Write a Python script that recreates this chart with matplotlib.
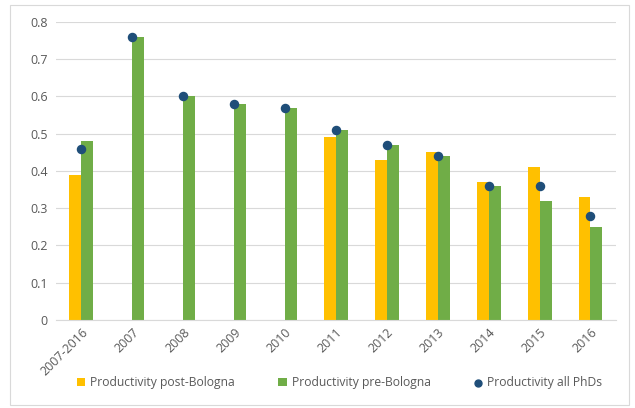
import numpy as np
import matplotlib.pyplot as plt
from matplotlib.patches import Rectangle

plt.rcParams['font.family'] = ['Open Sans', 'DejaVu Sans']

categories = ['2007-2016', '2007', '2008', '2009', '2010', '2011',
              '2012', '2013', '2014', '2015', '2016']
post_bologna = [0.39, np.nan, np.nan, np.nan, np.nan, 0.49, 0.43, 0.45, 0.37, 0.41, 0.33]
pre_bologna = [0.48, 0.76, 0.60, 0.58, 0.57, 0.51, 0.47, 0.44, 0.36, 0.32, 0.25]
all_phds = [0.46, 0.76, 0.60, 0.58, 0.57, 0.51, 0.47, 0.44, 0.36, 0.36, 0.28]

fig = plt.figure(figsize=(6.35, 4.08), dpi=100)
ax = fig.add_axes([0.088, 0.216, 0.882, 0.730])

# thin frame round the whole chart
fig.patches.append(Rectangle((0.015, 0.008), 0.975, 0.98, transform=fig.transFigure,
                             fill=False, edgecolor='#d9d9d9', linewidth=0.8))

x = np.arange(len(categories))
w = 0.235
b1 = ax.bar(x - w / 2, post_bologna, w, color='#FFC000', zorder=2)
b2 = ax.bar(x + w / 2, pre_bologna, w, color='#70AD47', zorder=2)
sc = ax.scatter(x, all_phds, s=34, color='#1F4E79', zorder=3)

ax.set_xlim(-0.5, len(categories) - 0.5)
ax.set_ylim(0, 0.8)
ax.set_yticks(np.arange(0, 0.81, 0.1))
ax.set_yticklabels(['0'] + [f'{v:.1f}' for v in np.arange(0.1, 0.81, 0.1)])
ax.set_xticks(x)
ax.set_xticklabels(categories, rotation=45, ha='right', rotation_mode='anchor')
ax.tick_params(axis='both', length=0, labelsize=9, colors='#595959', pad=6)
ax.tick_params(axis='x', pad=4)
ax.grid(axis='y', color='#d9d9d9', linewidth=0.8, zorder=0)
for s in ['top', 'right', 'left']:
    ax.spines[s].set_visible(False)
ax.spines['bottom'].set_color('#d9d9d9')

leg = fig.legend([b1, b2, sc],
                 ['Productivity post-Bologna', 'Productivity pre-Bologna', 'Productivity all PhDs'],
                 loc='lower center', bbox_to_anchor=(0.535, 0.02), ncol=3,
                 frameon=False, fontsize=8.7, handlelength=0.7, handleheight=0.7,
                 columnspacing=3.6, handletextpad=0.4, labelcolor='#595959')
leg.legend_handles[2].set_sizes([25])

fig.savefig('out.png', dpi=100)
